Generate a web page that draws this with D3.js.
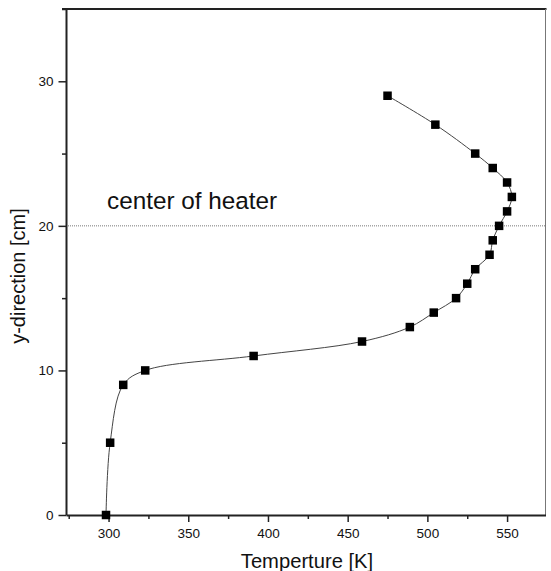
<!DOCTYPE html>
<html>
<head>
<meta charset="utf-8">
<script src="https://cdn.jsdelivr.net/npm/d3@7"></script>
<style>
  html, body { margin: 0; padding: 0; background: #fff; }
  svg { display: block; }
  text { font-family: "Liberation Sans", Arial, sans-serif; fill: #111; }
</style>
</head>
<body>
<svg id="chart" width="551" height="571"></svg>
<script>
// Measured temperature profile along the vertical direction
const yPositions   = [0, 5, 9, 10, 11, 12, 13, 14, 15, 16, 17, 18, 19, 20, 21, 22, 23, 24, 25, 27, 29];
const temperatures = [298.4, 301, 309.2, 323, 391, 459, 489, 504, 518, 525, 530, 539, 541, 545, 550, 553, 550, 541, 530, 505, 475];

const xMajorTicks = [300, 350, 400, 450, 500, 550];
const xMinorTicks = [275, 325, 375, 425, 475, 525];
const yMajorTicks = [0, 10, 20, 30];
const yMinorTicks = [5, 15, 25, 35];
const heaterLevel = 20;
const heaterLabel = "center of heater";
const xTitle = "Temperture [K]";
const yTitle = "y-direction [cm]";

const svg = d3.select("#chart");
const plotLeft = 66, plotRight = 545.5, plotTop = 9, plotBottom = 515;

const x = d3.scaleLinear().domain([273.3, 574.1]).range([plotLeft, plotRight]);
const y = d3.scaleLinear().domain([0, 35]).range([plotBottom, plotTop]);

// Frame: heavy top edge, light right edge
svg.append("line").attr("x1", plotLeft - 4).attr("x2", plotRight + 1)
  .attr("y1", plotTop).attr("y2", plotTop).attr("stroke", "#222").attr("stroke-width", 2);
svg.append("line").attr("x1", plotRight).attr("x2", plotRight)
  .attr("y1", plotTop).attr("y2", plotBottom).attr("stroke", "#777").attr("stroke-width", 1);

// Horizontal reference at the heater centre
svg.append("line")
  .attr("x1", plotLeft).attr("x2", plotRight)
  .attr("y1", y(heaterLevel)).attr("y2", y(heaterLevel))
  .attr("stroke", "#777").attr("stroke-width", 1)
  .attr("stroke-dasharray", "1,1");

svg.append("text")
  .attr("x", 107).attr("y", 208.5)
  .attr("font-size", 24.3)
  .text(heaterLabel);

// Axes
function styleAxis(g) {
  g.selectAll(".domain").attr("stroke", "#222").attr("stroke-width", 2);
  g.selectAll(".tick line").attr("stroke", "#222").attr("stroke-width", 1.5);
  g.selectAll(".tick text").attr("font-size", 13.5).attr("fill", "#111")
    .attr("font-family", "Liberation Sans, Arial, sans-serif");
}

svg.append("g").attr("transform", `translate(0,${plotBottom})`)
  .call(d3.axisBottom(x).tickValues(xMinorTicks).tickSize(4).tickFormat(""))
  .call(g => g.select(".domain").remove())
  .call(styleAxis);
svg.append("g").attr("transform", `translate(0,${plotBottom})`)
  .call(d3.axisBottom(x).tickValues(xMajorTicks).tickSize(7).tickSizeOuter(0).tickPadding(6).tickFormat(d3.format("d")))
  .call(styleAxis);

svg.append("g").attr("transform", `translate(${plotLeft},0)`)
  .call(d3.axisLeft(y).tickValues(yMinorTicks).tickSize(4).tickFormat(""))
  .call(g => g.select(".domain").remove())
  .call(styleAxis);
svg.append("g").attr("transform", `translate(${plotLeft},0)`)
  .call(d3.axisLeft(y).tickValues(yMajorTicks).tickSize(7.5).tickSizeOuter(0).tickPadding(5).tickFormat(d3.format("d")))
  .call(styleAxis);

// Axis titles
svg.append("text")
  .attr("x", 307).attr("y", 567.5)
  .attr("text-anchor", "middle").attr("font-size", 20.2)
  .text(xTitle);
svg.append("text")
  .attr("transform", "translate(25,276) rotate(-90)")
  .attr("text-anchor", "middle").attr("font-size", 20)
  .text(yTitle);

// Smoothed profile curve and markers
const points = yPositions.map((v, i) => ({ t: temperatures[i], h: v }));

svg.append("path")
  .datum(points)
  .attr("fill", "none")
  .attr("stroke", "#444")
  .attr("stroke-width", 1)
  .attr("d", d3.line().x(d => x(d.t)).y(d => y(d.h)).curve(d3.curveCatmullRom.alpha(0.5)));

const s = 8.5;
svg.append("g").selectAll("rect")
  .data(points)
  .join("rect")
  .attr("x", d => x(d.t) - s / 2)
  .attr("y", d => y(d.h) - s / 2)
  .attr("width", s).attr("height", s)
  .attr("fill", "#000");
</script>
</body>
</html>
